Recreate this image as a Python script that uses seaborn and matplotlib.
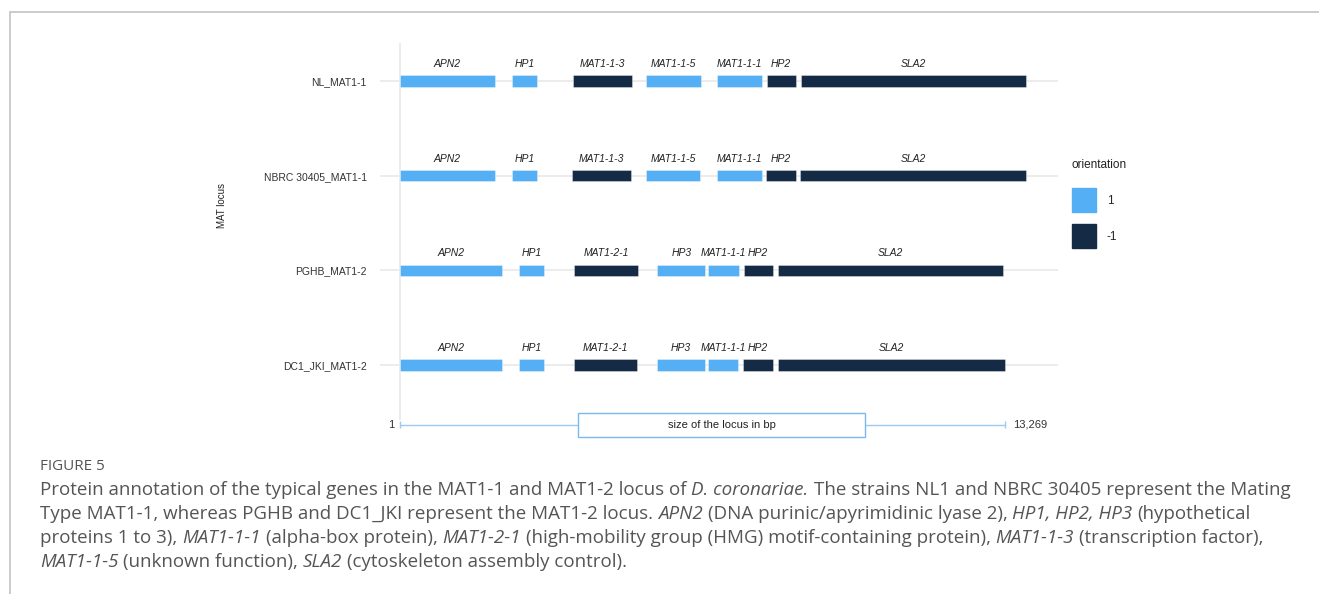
import matplotlib
matplotlib.use("Agg")
import matplotlib.pyplot as plt
import seaborn as sns
import pandas as pd
from matplotlib.patches import Rectangle, Patch

# ---------------- data ----------------
strains = ["NL_MAT1-1", "NBRC 30405_MAT1-1", "PGHB_MAT1-2", "DC1_JKI_MAT1-2"]

nl_genes = ["APN2", "HP1", "MAT1-1-3", "MAT1-1-5", "MAT1-1-1", "HP2", "SLA2"]
nl_start = [1, 2463, 3787, 5395, 6959, 8042, 8794]
nl_end = [2084, 3011, 5081, 6595, 7939, 8678, 13722]
nl_orient = [1, 1, -1, 1, 1, -1, -1]

nbrc_genes = ["APN2", "HP1", "MAT1-1-3", "MAT1-1-5", "MAT1-1-1", "HP2", "SLA2"]
nbrc_start = [1, 2463, 3780, 5395, 6950, 8030, 8780]
nbrc_end = [2084, 3000, 5070, 6580, 7940, 8678, 13730]
nbrc_orient = [1, 1, -1, 1, 1, -1, -1]

pghb_genes = ["APN2", "HP1", "MAT1-2-1", "HP3", "MAT1-1-1", "HP2", "SLA2"]
pghb_start = [1, 2616, 3816, 5643, 6761, 7537, 8290]
pghb_end = [2230, 3165, 5220, 6695, 7428, 8174, 13231]
pghb_orient = [1, 1, -1, 1, 1, -1, -1]

dc1_genes = ["APN2", "HP1", "MAT1-2-1", "HP3", "MAT1-1-1", "HP2", "SLA2"]
dc1_start = [1, 2616, 3816, 5643, 6750, 7530, 8290]
dc1_end = [2230, 3165, 5205, 6690, 7420, 8174, 13270]
dc1_orient = [1, 1, -1, 1, 1, -1, -1]

locus_min = 1
locus_max = 13269
orientations = [1, -1]

rows = []
for s, g, a, b, o in [
    (strains[0], nl_genes, nl_start, nl_end, nl_orient),
    (strains[1], nbrc_genes, nbrc_start, nbrc_end, nbrc_orient),
    (strains[2], pghb_genes, pghb_start, pghb_end, pghb_orient),
    (strains[3], dc1_genes, dc1_start, dc1_end, dc1_orient),
]:
    for gi, ai, bi, oi in zip(g, a, b, o):
        rows.append(dict(strain=s, gene=gi, start=ai, end=bi, orientation=oi))
df = pd.DataFrame(rows)

# ---------------- style ----------------
sns.set_theme(style="white")
plt.rcParams["font.family"] = ["Liberation Sans", "DejaVu Sans"]

pal = dict(zip(orientations, ["#55AFF5", "#152A44"]))

W, H = 1319, 594
fig = plt.figure(figsize=(W / 100, H / 100), dpi=100)

# frame around the figure panel
fig.add_artist(plt.Line2D([9.5 / W, 1], [1 - 11.5 / H, 1 - 11.5 / H],
                          transform=fig.transFigure, color="#c8c8c8", lw=1.3))
fig.add_artist(plt.Line2D([9.5 / W, 9.5 / W], [0, 1 - 11.5 / H],
                          transform=fig.transFigure, color="#c8c8c8", lw=1.3))

# main axes (pixel layout)
px_left, px_right, px_top, px_bot = 380, 1058, 43, 440
ax = fig.add_axes([px_left / W, 1 - px_bot / H,
                   (px_right - px_left) / W, (px_bot - px_top) / H])
ax.set_facecolor("none")

k = (locus_max - locus_min) / 605.0
xmin = locus_min + (px_left - 400) * k
xmax = locus_min + (px_right - 400) * k
row_sp = 94.67
y_top = -(81 - px_top) / row_sp
y_bot = (px_bot - 81) / row_sp
ax.set_xlim(xmin, xmax)
ax.set_ylim(y_bot, y_top)

ypos = {s: i for i, s in enumerate(strains)}
ax.hlines(range(len(strains)), xmin, xmax, color="#ebebeb", lw=1.3, zorder=0)
ax.vlines(locus_min, y_top, (420 - 81) / row_sp, color="#ebebeb", lw=1.3, zorder=0)

bar_h = 11.5 / row_sp
for o in orientations:
    sub = df[df.orientation == o]
    ax.barh(sub.strain.map(ypos), sub.end - sub.start, left=sub.start,
            height=bar_h, color=pal[o], edgecolor=(1, 1, 1, 0.35),
            linewidth=0.7, zorder=2)

for _, r in df.iterrows():
    ax.text((r.start + r.end) / 2, ypos[r.strain] - 17 / row_sp, r.gene,
            ha="center", va="center", style="italic", fontsize=7.5,
            color="#222222")

ax.set_yticks(range(len(strains)))
ax.set_yticklabels(strains, fontsize=7.5, color="#333333")
ax.tick_params(axis="y", length=0, pad=9.5)
ax.set_xticks([])
for sp in ax.spines.values():
    sp.set_visible(False)

# scale bar
ys = (425 - 81) / row_sp
ax.plot([locus_min, locus_max], [ys, ys], color="#9ccaf2", lw=1.0, zorder=1)
ax.vlines([locus_min, locus_max], ys - 3.5 / row_sp, ys + 3.5 / row_sp,
          color="#9ccaf2", lw=1.0)
ax.add_patch(Rectangle((3904, ys - 12 / row_sp), 10198 - 3904, 24 / row_sp,
                       facecolor="white", edgecolor="#7ab8ee", lw=1.0, zorder=3))
ax.text((3904 + 10198) / 2, ys, "size of the locus in bp", ha="center",
        va="center", fontsize=8, color="#222222", zorder=4)
ax.annotate(f"{locus_min:,}", (locus_min, ys), xytext=(-4, 0),
            textcoords="offset points", ha="right", va="center",
            fontsize=8, color="#333333")
ax.annotate(f"{locus_max:,}", (locus_max, ys), xytext=(6, 0),
            textcoords="offset points", ha="left", va="center",
            fontsize=8, color="#333333")

fig.text(222 / W, 1 - 205 / H, "MAT locus", rotation=90, ha="center",
         va="center", fontsize=7, color="#222222")

# legend
fig.text(1071 / W, 1 - 165 / H, "orientation", ha="left", va="center",
         fontsize=8.5, color="#222222")
handles = [Patch(facecolor=pal[o], edgecolor=pal[o]) for o in orientations]
fig.legend(handles, [str(o) for o in orientations],
           loc="upper left", bbox_to_anchor=(1072 / W, 1 - 188 / H),
           frameon=False, fontsize=8.5,
           handlelength=2.05, handleheight=2.75, labelspacing=1.02,
           handletextpad=0.9, borderaxespad=0, borderpad=0)

# ---------------- caption ----------------
cap_font = ["Open Sans", "DejaVu Sans"]
renderer = fig.canvas.get_renderer()


def text_w(s, style, size):
    t = fig.text(0, 0, s, fontsize=size, style=style, family=cap_font)
    w = t.get_window_extent(renderer).width
    t.remove()
    return w


def draw_line(segments, x0, y_px, size, color):
    space_w = text_w("a a", "normal", size) - text_w("aa", "normal", size)
    x = x0
    for txt, ital in segments:
        st = "italic" if ital else "normal"
        lead = len(txt) - len(txt.lstrip(" "))
        trail = len(txt) - len(txt.rstrip(" "))
        x += lead * space_w
        core = txt.strip(" ")
        if core:
            fig.text(x / W, 1 - y_px / H, core, fontsize=size, style=st,
                     family=cap_font, color=color, ha="left", va="baseline")
            x += text_w(core, st, size)
        x += trail * space_w


fig.text(40 / W, 1 - 470 / H, "FIGURE 5", fontsize=11, family=cap_font,
         color="#555555", ha="left", va="baseline")

cap_lines = [
    [("Protein annotation of the typical genes in the MAT1-1 and MAT1-2 locus of ", False),
     ("D. coronariae.", True),
     (" The strains NL1 and NBRC 30405 represent the Mating", False)],
    [("Type MAT1-1, whereas PGHB and DC1_JKI represent the MAT1-2 locus. ", False),
     ("APN2", True), (" (DNA purinic/apyrimidinic lyase 2), ", False),
     ("HP1, HP2, HP3", True), (" (hypothetical", False)],
    [("proteins 1 to 3), ", False), ("MAT1-1-1", True),
     (" (alpha-box protein), ", False), ("MAT1-2-1", True),
     (" (high-mobility group (HMG) motif-containing protein), ", False),
     ("MAT1-1-3", True), (" (transcription factor),", False)],
    [("MAT1-1-5", True), (" (unknown function), ", False), ("SLA2", True),
     (" (cytoskeleton assembly control).", False)],
]
for i, segs in enumerate(cap_lines):
    draw_line(segs, 40, 495 + 24 * i, 13.5, "#555555")

fig.savefig("out.png", dpi=100)
